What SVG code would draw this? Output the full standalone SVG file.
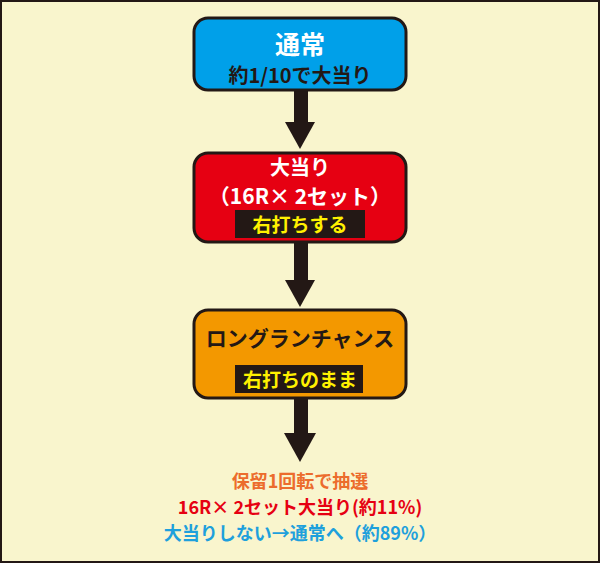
<svg xmlns="http://www.w3.org/2000/svg" width="600" height="563" viewBox="0 0 600 563">
<style>
.box{stroke:#231815;stroke-width:3}
.t{font-family:"Noto Sans CJK JP","Liberation Sans",sans-serif;font-weight:bold;text-anchor:middle}
.arr{fill:#231815}
</style>
<rect x="1" y="1" width="598" height="561" fill="#f9f5cd" stroke="#231815" stroke-width="2"/>
<g id="connectors" class="arr">
<rect x="294" y="90" width="14" height="34"/><polygon points="285,122 315,122 300,149"/>
<rect x="294" y="242" width="14" height="40"/><polygon points="285,280 315,280 300,307"/>
<rect x="294" y="398" width="14" height="37"/><polygon points="284,433 316,433 300,462"/>
</g>
<g id="normal">
<rect class="box" x="194" y="18" width="212" height="72" rx="14" fill="#00a0e9"/>
<text class="t" x="300" y="54" font-size="25" fill="#fff">通常</text>
<text class="t" x="300" y="83" font-size="20" fill="#231815">約1/10で大当り</text>
</g>
<g id="jackpot">
<rect class="box" x="194" y="153" width="212" height="89" rx="14" fill="#e60012"/>
<text class="t" x="300" y="175" font-size="20" fill="#fff">大当り</text>
<text class="t" x="300" y="204" font-size="21" fill="#fff">（16R× 2セット）</text>
<rect x="235" y="210" width="130" height="28" fill="#231815"/>
<text class="t" x="300" y="232" font-size="19" fill="#fff100">右打ちする</text>
</g>
<g id="longrun">
<rect class="box" x="194" y="310" width="212" height="88" rx="14" fill="#f39800"/>
<text class="t" x="300" y="346" font-size="21" fill="#231815">ロングランチャンス</text>
<rect x="235" y="365" width="128" height="28" fill="#231815"/>
<text class="t" x="300" y="387" font-size="19" fill="#fff100">右打ちのまま</text>
</g>
<g id="result">
<text class="t" x="300" y="488" font-size="18" fill="#ec6c2c">保留1回転で抽選</text>
<text class="t" x="300" y="514" font-size="18" fill="#e60012">16R× 2セット大当り(約11%)</text>
<text class="t" x="300" y="540" font-size="18" fill="#1ea0dc">大当りしない→通常へ（約89%）</text>
</g>
</svg>
